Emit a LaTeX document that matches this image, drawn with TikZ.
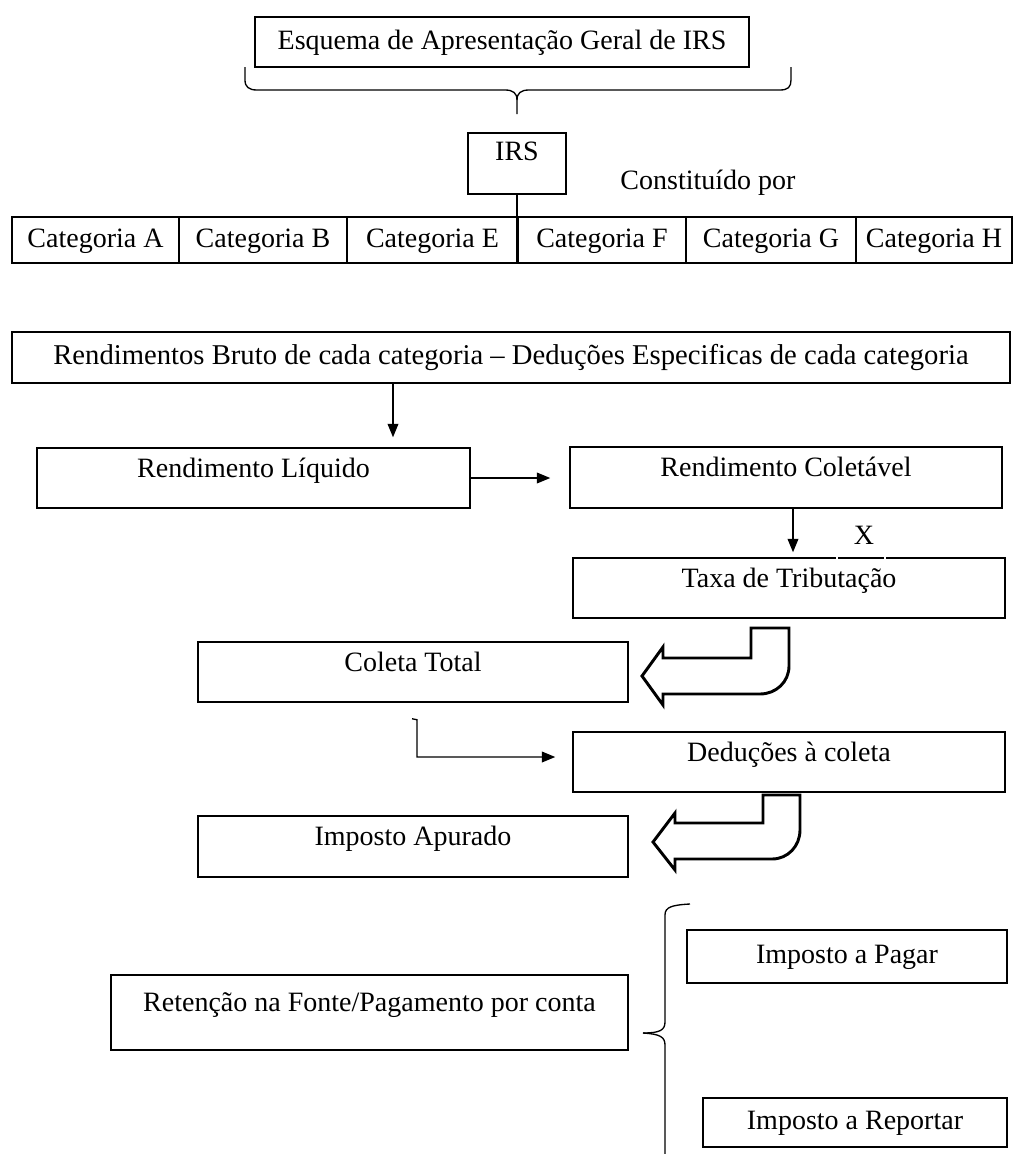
\documentclass[tikz,border=0pt]{standalone}
\usepackage{fontspec}
\setmainfont{Liberation Serif}
\usetikzlibrary{calc,arrows.meta}
\begin{document}
\begin{tikzpicture}[x=0.75pt,y=-0.75pt,
  box/.style={draw, line width=1.1pt, inner sep=0pt, fill=white,
              font=\fontsize{21}{25}\selectfont, text height=15pt, text depth=4pt},
  raised/.style={text depth=16pt},
  raisedmore/.style={text depth=19pt},
  txt/.style={font=\fontsize{21}{25}\selectfont, text height=15pt, text depth=4pt, inner sep=0pt},
  conn/.style={line width=1pt},
  arr/.style={conn, -{Triangle[length=10pt,width=8pt]}},
  blk/.style={draw, line width=2.2pt, fill=white, line join=miter},
  bracestyle/.style={draw, line width=1pt}
]
\useasboundingbox (0,0) rectangle (1013,1154);

% title and brace
\node[box, minimum width=494*0.75pt, minimum height=50*0.75pt] (title) at (502,42) {Esquema de Apresentação Geral de IRS};
\path[bracestyle] (245,67) -- (245,80) .. controls (245,87) and (249,90) .. (257,90) -- (505,90)
   .. controls (513,90) and (517,93) .. (517,100) -- (517,114);
\path[bracestyle] (517,100) .. controls (517,93) and (521,90) .. (529,90) -- (780,90)
   .. controls (788,90) and (791,87) .. (791,80) -- (791,67);

% IRS
\node[box, raisedmore, minimum width=98*0.75pt, minimum height=61*0.75pt] (irs) at (517,163.5) {IRS};
\node[txt] (const) at (708,182) {Constituído por};

% categories
\node[box, minimum width=167*0.75pt, minimum height=46*0.75pt] (catA) at (95.5,240) {Categoria A};
\node[box, minimum width=168*0.75pt, minimum height=46*0.75pt] (catB) at (263,240) {Categoria B};
\node[box, minimum width=171*0.75pt, minimum height=46*0.75pt] (catE) at (432.5,240) {Categoria E};
\node[box, minimum width=168*0.75pt, minimum height=46*0.75pt] (catF) at (602,240) {Categoria F};
\node[box, minimum width=170*0.75pt, minimum height=46*0.75pt] (catG) at (771,240) {Categoria G};
\node[box, minimum width=156*0.75pt, minimum height=46*0.75pt] (catH) at (934,240) {Categoria H};
\draw[conn] (irs.south) -- (irs.south |- catE.south);

% main flow
\node[box, font=\fontsize{21.5}{25}\selectfont, minimum width=998*0.75pt, minimum height=51*0.75pt] (rend) at (511,357.5) {Rendimentos Bruto de cada categoria – Deduções Especificas de cada categoria};
\node[box, raised, minimum width=433*0.75pt, minimum height=60*0.75pt] (liq) at (253.5,478) {Rendimento Líquido};
\node[box, raised, minimum width=432*0.75pt, minimum height=61*0.75pt] (colet) at (786,477.5) {Rendimento Coletável};
\node[box, raised, minimum width=432*0.75pt, minimum height=60*0.75pt] (taxa) at (789,588) {Taxa de Tributação};
\node[box, raised, minimum width=430*0.75pt, minimum height=60*0.75pt] (coleta) at (413,672) {Coleta Total};
\node[box, raised, minimum width=432*0.75pt, minimum height=60*0.75pt] (ded) at (789,762) {Deduções à coleta};
\node[box, raised, minimum width=430*0.75pt, minimum height=61*0.75pt] (apur) at (413,846.5) {Imposto Apurado};
\node[box, raised, minimum width=517*0.75pt, minimum height=75*0.75pt] (ret) at (369.5,1012.5) {Retenção na Fonte/Pagamento por conta};
\node[box, minimum width=320*0.75pt, minimum height=53*0.75pt] (pagar) at (847,956.5) {Imposto a Pagar};
\node[box, minimum width=304*0.75pt, minimum height=49*0.75pt] (report) at (855,1122.5) {Imposto a Reportar};

% little gaps in the top line of the Taxa box
\draw[white, line width=1.6pt] (837,555) -- (837,561) (885,555) -- (885,561);
\node[txt] (xlab) at (864,537) {X};

% connectors
\coordinate (a1) at (393,0);
\draw[arr] (a1 |- rend.south) -- ($(a1 |- liq.north)+(0,-10)$);
\draw[arr] (liq.east) -- ($(colet.west |- liq.east)+(-19,0)$);
\coordinate (a3) at (793,0);
\draw[arr] (a3 |- colet.south) -- ($(a3 |- taxa.north)+(0,-5)$);
\draw[arr] ($(coleta.south)+(-1,16)$) -- ++(5,1) |- ($(ded.west)+(-17,-5)$);

% block arrows
\path[blk] (642,676) -- (663,647) -- (663,658) -- (751,658) -- (751,628) -- (789,628) -- (789,666)
   .. controls (789,682) and (776,694) .. (760,694) -- (663,694) -- (663,705) -- cycle;
\path[blk] (653,842) -- (675,813) -- (675,823) -- (763,823) -- (763,795) -- (800,795) -- (800,830)
   .. controls (800,846) and (788,859) .. (772,859) -- (675,859) -- (675,870) -- cycle;

% bottom brace
\path[bracestyle] (690,904) .. controls (672,905) and (665,907) .. (665,915) -- (665,1022)
   .. controls (665,1030) and (660,1033) .. (643,1033);
\path[bracestyle] (643,1033) .. controls (660,1034) and (665,1037) .. (665,1045) -- (665,1160);
\end{tikzpicture}
\end{document}
